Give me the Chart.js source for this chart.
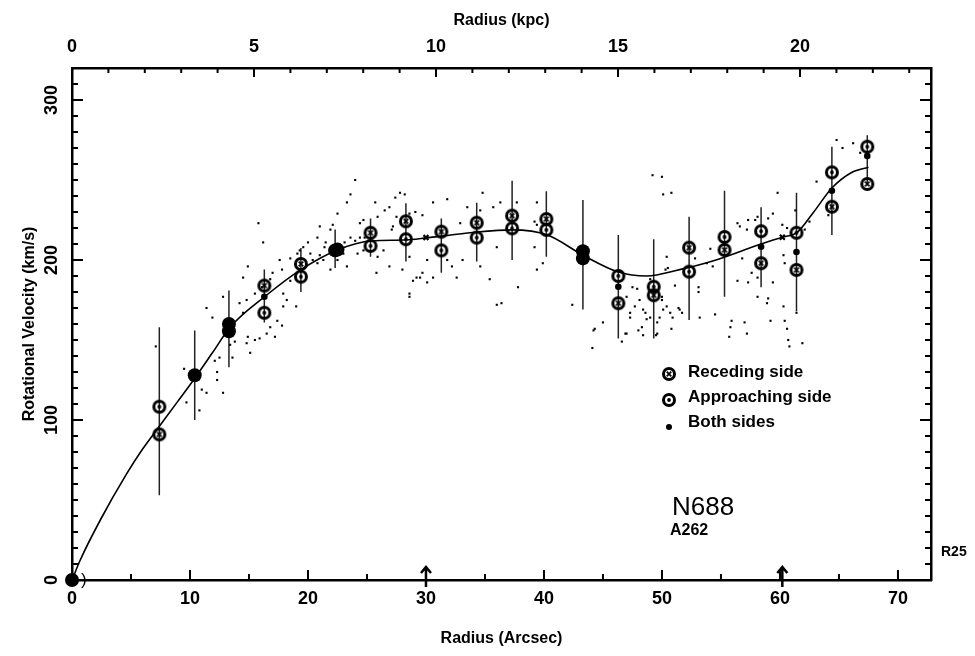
<!DOCTYPE html>
<html>
<head>
<meta charset="utf-8">
<title>N688 rotation curve</title>
<script src="https://cdn.jsdelivr.net/npm/chart.js@4.4.1/dist/chart.umd.min.js"></script>
<style>
  html, body { margin: 0; padding: 0; background: #fff; }
  #wrap { width: 975px; height: 656px; position: relative; }
</style>
</head>
<body>
<div id="wrap"><canvas id="rotChart"></canvas></div>
<script>
// ---- data (radius in arcsec, velocity in km/s) ----
const sampleR = [7.4, 10.4, 13.3, 16.3, 19.4, 22.3, 25.3, 28.3, 31.3, 34.3, 37.3, 40.2, 43.3, 46.3, 49.3, 52.3, 55.3, 58.4, 61.4, 64.4, 67.4];
const errLo   = [53, 100, 133, 161, 180, 195, 202, 199, 192, 199, 200, 202, 169, 151, 151, 162.5, 177, 183, 168, 215.6, 247.5];
const errHi   = [158, 156, 181, 194, 207.5, 219, 226, 235.5, 226, 235.8, 249.6, 243, 237.5, 215.6, 213, 227, 243.3, 233, 242, 270.8, 278];

const recedingR    = [7.4, 16.3, 19.4, 25.3, 28.3, 31.3, 34.3, 37.3, 40.2, 46.3, 49.3, 52.3, 55.3, 58.4, 61.4, 64.4, 67.4];
const recedingV    = [91, 184, 197.5, 217, 224.2, 217.7, 223.3, 227.7, 225.6, 173, 178, 207.7, 206.3, 198, 193.8, 233.3, 247.5];
const approachingR = [7.4, 16.3, 19.4, 25.3, 28.3, 31.3, 34.3, 37.3, 40.2, 46.3, 49.3, 52.3, 55.3, 58.4, 61.4, 64.4, 67.4];
const approachingV = [108.3, 167, 189.6, 208.8, 213, 206, 214, 219.8, 218.8, 190, 183.3, 192.7, 214.4, 218, 217, 254.8, 270.8];
const bothR = [16.3, 46.3, 58.4, 61.4, 64.4, 67.4];
const bothV = [177, 183.3, 208.3, 205, 243.3, 265];
// places where the two sides coincide and print as one solid blob
const blendR = [0, 10.4, 13.3, 13.3, 22.3, 22.5, 43.3, 43.3];
const blendV = [0, 128, 160, 155.5, 206, 206.5, 205.5, 201];
// small cross marks on the curve
const markR = [30, 60.2];
const markV = [214, 214.2];
const arrowR = [30, 60.2];

const curveR = [0, 0.7, 2.4, 4.6, 6.0, 7.5, 8.9, 10.3, 11.9, 13.4, 16.4, 19.4, 22.4, 25.4, 28.1, 30.2, 31.4, 34.3, 37.3, 40.3, 43.3, 46.3, 48.7, 51.5, 54.3, 58.4, 60.3, 61.4, 62.8, 64.4, 66.0, 67.5];
const curveV = [0, 12.5, 37.5, 66, 82, 97, 111, 125, 142, 158, 177.5, 194, 206, 212, 212.5, 214, 215, 217.5, 218.8, 215.6, 203, 192.5, 190, 194, 199.4, 210, 214.4, 216.9, 229.4, 245, 254.4, 258];

// individual long-slit measurements (small dots)
const slitPoints = [
  [7.1,146],[9.5,132],[9.7,111],[10.8,106],[11.0,119],[11.4,117],[12.3,125],[12.1,137],[12.5,139],[12.8,117],
  [12.3,130],[11.4,170],[11.9,164],[12.8,177],[13.4,147],[13.6,139],[13.8,149],[14.2,173],[14.5,167],[14.8,175],
  [14.8,148],[14.9,152],[15.1,142],[14.5,189],[14.9,196],[15.8,223],[16.2,211],[15.5,150],[15.9,151],[16.5,154],
  [16.8,158],[17.2,152],[17.4,162],[17.8,159],[17.9,171],[17.0,192],[17.6,200],[17.9,179],[18.2,175],[19.0,171],
  [18.5,187],[19.1,204],[19.6,208],[20.2,204],[20.4,200],[20.8,198],[21.0,203],[21.3,200],[20.0,211],[20.8,214],
  [21.0,221],[21.9,219],[22.1,222],[22.5,229],[23.3,236],[23.6,241],[24.0,250],[24.4,223],[24.7,225],[24.4,214],
  [23.6,214],[23.3,196],[21.9,194],[22.5,200],[23.0,204],[24.2,204],[24.7,206],[25.7,236],[25.9,227],[26.5,231],
  [26.9,233],[27.4,239],[27.8,242],[28.2,241],[25.9,202],[25.8,192],[26.9,196],[26.4,206],[27.2,221],[27.5,227],
  [28.6,229],[29.1,230],[29.2,189],[28.9,187],[28.6,179],[28.6,177],[28.0,194],[28.6,202],[18.5,201],[19.3,206],
  [21.4,208],[23.1,211],[24.0,212],[24.8,214],[21.5,211],[17.8,194],[16.8,188],[16.1,183],[15.5,179],[27.1,219],
  [29.5,189],[30.1,186],[30.6,189],[29.7,192],[29.7,228],[30.6,236],[31.8,238],[30.1,200],[31.8,200],[32.2,196],
  [32.6,189],[33.1,200],[33.5,233],[32.9,223],[34.6,231],[34.8,242],[35.7,233],[36.3,236],[36.0,208],[34.6,196],
  [35.4,188],[36.0,172],[36.4,173],[37.8,183],[37.7,236],[39.4,236],[39.2,208],[39.9,198],[39.4,194],[42.4,172],
  [44.2,156],[44.1,145],[45.0,161],[47.0,177],[47.0,154],[46.6,149],[47.3,167],[47.7,171],[48.1,175],[48.4,169],
  [48.7,163],[48.3,158],[48.0,156],[47.5,183],[49.2,253],[50.0,252],[50.1,241],[50.8,242],[50.4,202],[50.3,194],
  [50.0,177],[50.4,171],[50.7,167],[50.9,164],[51.4,170],[49.8,164],[49.6,154],[49.6,161],[39.2,224],[39.4,222],
  [44.3,157],[46.9,154],[47.3,164],[47.9,182],[48.4,153],[48.6,167],[49.0,188],[50.0,175],[50.1,169],[49.5,153],
  [50.5,195],[51.1,184],[51.5,169],[51.7,167],[50.8,157],[49.0,164],[52.8,201],[53.1,183],[53.1,180],[53.2,164],
  [53.8,198],[54.1,207],[54.5,166],[54.3,196],[55.8,158],[55.7,152],[55.9,162],[56.4,223],[56.6,221],[56.4,187],
  [56.8,201],[57.2,219],[57.3,225],[57.2,154],[57.0,161],[57.3,186],[57.6,192],[58.1,189],[58.1,177],[57.9,225],
  [58.1,227],[59.0,226],[59.4,229],[59.8,242],[59.2,162],[59.0,176],[59.4,186],[58.9,173],[60.2,222],[60.6,220],
  [60.3,203],[60.4,198],[60.3,171],[60.4,162],[60.6,157],[60.7,150],[60.8,146],[61.3,231],[61.4,167],[61.9,148],
  [62.1,219],[62.5,224],[63.1,249],[64.1,228],[64.8,275],[65.3,270],[66.2,273],[66.8,267]
];

const ARCSEC_PER_KPC = 3.085;
const X_MAX = 72.8;
const Y_MAX = 320;

const FONT = "'Liberation Sans', Arial, sans-serif";

function toXY(rs, vs) {
  return rs.map((r, i) => ({ x: r, y: vs[i] }));
}

// ring symbols drawn once into small canvases and used as point styles
function makeMarker(kind, size) {
  const c = document.createElement('canvas');
  c.width = size; c.height = size;
  const g = c.getContext('2d');
  const m = size / 2;
  g.strokeStyle = '#000';
  g.lineWidth = 3;
  g.beginPath();
  g.arc(m, m, m - 2.5, 0, Math.PI * 2);
  g.stroke();
  if (kind === 'receding') {
    g.lineWidth = 1.7;
    g.beginPath();
    g.moveTo(m - 2.3, m - 2.3); g.lineTo(m + 2.3, m + 2.3);
    g.moveTo(m + 2.3, m - 2.3); g.lineTo(m - 2.3, m + 2.3);
    g.stroke();
  } else {
    g.fillStyle = '#000';
    g.beginPath();
    g.arc(m, m, 1.9, 0, Math.PI * 2);
    g.fill();
  }
  return c;
}
const recedingIcon = makeMarker('receding', 16);
const approachingIcon = makeMarker('approaching', 16);

// inward ticks on all four sides, arrows on the radius axis, text notes
const frameTicks = {
  id: 'frameTicks',
  afterDraw(chart) {
    const { ctx, chartArea: a, scales } = chart;
    ctx.save();
    ctx.strokeStyle = '#000';
    ctx.lineWidth = 2;
    ctx.beginPath();
    for (let v = 0; v <= X_MAX; v += 5) {
      const px = scales.x.getPixelForValue(v);
      const len = v % 10 === 0 ? 10 : 6;
      ctx.moveTo(px, a.bottom); ctx.lineTo(px, a.bottom - len);
    }
    for (let k = 0; k <= X_MAX / ARCSEC_PER_KPC; k++) {
      const px = scales.x2.getPixelForValue(k);
      const len = k % 5 === 0 ? 9 : 5;
      ctx.moveTo(px, a.top); ctx.lineTo(px, a.top + len);
    }
    for (let v = 0; v <= Y_MAX; v += 10) {
      const py = scales.y.getPixelForValue(v);
      const len = v % 100 === 0 ? 11 : 6;
      ctx.moveTo(a.left, py); ctx.lineTo(a.left + len, py);
      ctx.moveTo(a.right, py); ctx.lineTo(a.right - len, py);
    }
    ctx.stroke();

    // arrows under the curve marks
    ctx.lineWidth = 2.5;
    arrowR.forEach(r => {
      const px = scales.x.getPixelForValue(r);
      ctx.beginPath();
      ctx.moveTo(px, a.bottom + 7); ctx.lineTo(px, a.bottom - 12);
      ctx.moveTo(px - 5, a.bottom - 7); ctx.lineTo(px, a.bottom - 13); ctx.lineTo(px + 5, a.bottom - 7);
      ctx.stroke();
    });

    // legend
    ctx.fillStyle = '#000';
    ctx.drawImage(recedingIcon, 669 - 8, 374 - 8);
    ctx.drawImage(approachingIcon, 669 - 8, 400 - 8);
    ctx.beginPath(); ctx.arc(669, 427, 3, 0, Math.PI * 2); ctx.fill();
    ctx.font = 'bold 17px ' + FONT;
    ctx.textBaseline = 'middle';
    ctx.textAlign = 'left';
    ctx.fillText('Receding side', 688, 372);
    ctx.fillText('Approaching side', 688, 397);
    ctx.fillText('Both sides', 688, 422);

    // galaxy label
    ctx.font = '26px ' + FONT;
    ctx.fillText('N688', 672, 508);
    ctx.font = 'bold 16px ' + FONT;
    ctx.fillText('A262', 670, 531);
    ctx.font = 'bold 14px ' + FONT;
    ctx.fillText('R25', 941, 552);
    ctx.font = '17px ' + FONT;
    ctx.fillText(')', 81, 580);
    ctx.restore();
  }
};

// vertical error bars, behind the symbols
const errorBars = {
  id: 'errorBars',
  beforeDatasetsDraw(chart) {
    const { ctx, scales } = chart;
    ctx.save();
    ctx.strokeStyle = '#222';
    ctx.lineWidth = 1.5;
    ctx.beginPath();
    sampleR.forEach((r, i) => {
      const px = scales.x.getPixelForValue(r);
      ctx.moveTo(px, scales.y.getPixelForValue(errLo[i]));
      ctx.lineTo(px, scales.y.getPixelForValue(errHi[i]));
    });
    ctx.stroke();
    ctx.restore();
  }
};

const tickFont = { family: FONT, size: 18, weight: 'bold' };
const titleFont = { family: FONT, size: 16, weight: 'bold' };
const axisBorder = { display: true, color: '#000', width: 2.5 };

new Chart(document.getElementById('rotChart'), {
  type: 'scatter',
  data: {
    datasets: [
      {
        label: 'Receding side',
        data: toXY(recedingR, recedingV),
        pointStyle: recedingIcon,
        pointRadius: 7,
        order: 1
      },
      {
        label: 'Approaching side',
        data: toXY(approachingR, approachingV),
        pointStyle: approachingIcon,
        pointRadius: 7,
        order: 1
      },
      {
        label: 'Both sides',
        data: toXY(bothR, bothV),
        pointStyle: 'circle',
        pointRadius: 3.3,
        backgroundColor: '#000',
        borderWidth: 0,
        order: 0
      },
      {
        label: 'blend',
        data: toXY(blendR, blendV),
        pointStyle: 'circle',
        pointRadius: 7,
        backgroundColor: '#000',
        borderWidth: 0,
        clip: false,
        order: 2
      },
      {
        label: 'marks',
        data: toXY(markR, markV),
        pointStyle: 'crossRot',
        pointRadius: 3.5,
        borderColor: '#000',
        borderWidth: 2.2,
        order: 2
      },
      {
        label: 'slit',
        data: slitPoints.map(p => ({ x: p[0], y: p[1] })),
        pointStyle: 'rect',
        pointRadius: 1.5,
        backgroundColor: '#000',
        borderWidth: 0,
        order: 3
      },
      {
        label: 'fit',
        type: 'line',
        data: toXY(curveR, curveV),
        showLine: true,
        borderColor: '#000',
        borderWidth: 1.6,
        pointRadius: 0,
        cubicInterpolationMode: 'monotone',
        fill: false,
        order: 4
      }
    ]
  },
  options: {
    responsive: true,
    maintainAspectRatio: false,
    animation: false,
    devicePixelRatio: 1,
    layout: { padding: 0 },
    plugins: {
      legend: { display: false },
      tooltip: { enabled: false }
    },
    scales: {
      x: {
        type: 'linear',
        position: 'bottom',
        min: 0,
        max: X_MAX,
        grid: { display: false, drawTicks: false },
        border: axisBorder,
        ticks: { stepSize: 10, includeBounds: false, color: '#000', font: tickFont, padding: 8, maxRotation: 0, autoSkip: false },
        title: { display: true, text: 'Radius (Arcsec)', color: '#000', font: titleFont, padding: { top: 0, bottom: 8 } },
        afterFit: s => { s.height = 76; }
      },
      x2: {
        type: 'linear',
        position: 'top',
        min: 0,
        max: X_MAX / ARCSEC_PER_KPC,
        grid: { display: false, drawTicks: false },
        border: axisBorder,
        ticks: { stepSize: 5, includeBounds: false, color: '#000', font: tickFont, padding: 10, maxRotation: 0, autoSkip: false },
        title: { display: true, text: 'Radius (kpc)', color: '#000', font: titleFont, padding: { top: 11, bottom: 0 } },
        afterFit: s => { s.height = 68; }
      },
      y: {
        type: 'linear',
        position: 'left',
        min: 0,
        max: Y_MAX,
        grid: { display: false, drawTicks: false },
        border: axisBorder,
        ticks: { stepSize: 100, includeBounds: false, color: '#000', font: tickFont, padding: 5, minRotation: 90, maxRotation: 90, crossAlign: 'center', autoSkip: false },
        title: { display: true, text: 'Rotational Velocity (km/s)', color: '#000', font: titleFont, padding: { top: 20, bottom: 0 } },
        afterFit: s => { s.width = 72; }
      },
      y2: {
        type: 'linear',
        position: 'right',
        min: 0,
        max: Y_MAX,
        grid: { display: false, drawTicks: false },
        border: axisBorder,
        ticks: { display: false },
        afterFit: s => { s.width = 44; }
      }
    }
  },
  plugins: [errorBars, frameTicks]
});
</script>
</body>
</html>
